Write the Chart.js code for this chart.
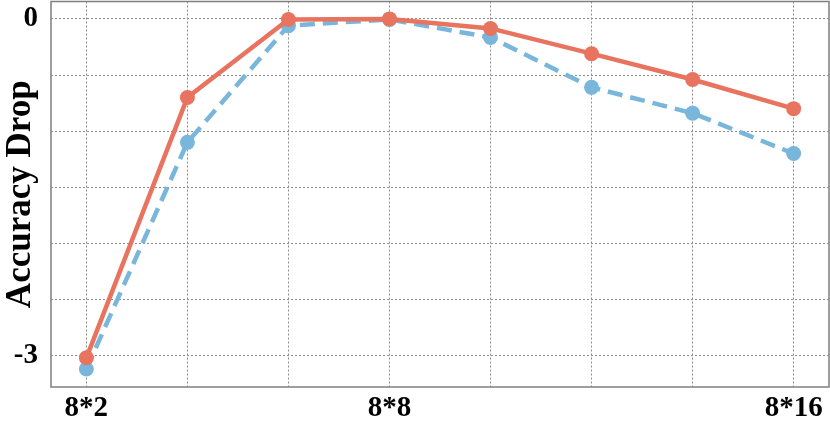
<!DOCTYPE html>
<html>
<head>
<meta charset="utf-8">
<script src="https://cdn.jsdelivr.net/npm/chart.js@4"></script>
<style>
  html, body { margin: 0; padding: 0; background: #fff; }
  #wrap { width: 830px; height: 422px; }
</style>
</head>
<body>
<div id="wrap"><canvas id="chart"></canvas></div>
<script>
// Data
const xValues = [2, 4, 6, 8, 10, 12, 14, 16];
const xLabeled = [2, 8, 16];
const redValues = [-3.02, -0.70, -0.005, 0, -0.085, -0.31, -0.54, -0.80];
const blueValues = [-3.12, -1.10, -0.06, -0.005, -0.165, -0.61, -0.84, -1.20];
const yTicks = [0, -0.5, -1, -1.5, -2, -2.5, -3];
const yLabeled = [0, -3];

const RED = '#e8735f';
const BLUE = '#79b6dc';
const FONT = "'Liberation Serif', 'Times New Roman', serif";

// frame around plot area
const framePlugin = {
  id: 'frame',
  afterDraw(chart) {
    const { ctx, chartArea: a } = chart;
    ctx.save();
    ctx.strokeStyle = '#7f7f7f';
    ctx.lineWidth = 1.5;
    ctx.strokeRect(a.left, a.top, a.right - a.left, a.bottom - a.top);
    ctx.restore();
  }
};

const toPoints = vals => vals.map((v, i) => ({ x: xValues[i], y: v }));

new Chart(document.getElementById('chart'), {
  type: 'line',
  data: {
    datasets: [
      {
        label: 'red',
        data: toPoints(redValues),
        borderColor: RED,
        backgroundColor: RED,
        borderWidth: 4.5,
        pointRadius: 7.5,
        pointHoverRadius: 7.5,
        pointBorderWidth: 0,
        tension: 0
      },
      {
        label: 'blue',
        data: toPoints(blueValues),
        borderColor: BLUE,
        backgroundColor: BLUE,
        borderWidth: 4.5,
        borderDash: [15, 8],
        pointRadius: 7.5,
        pointHoverRadius: 7.5,
        pointBorderWidth: 0,
        tension: 0
      }
    ]
  },
  options: {
    responsive: true,
    maintainAspectRatio: false,
    animation: false,
    layout: { autoPadding: false, padding: { top: 1.5, right: 1, left: 0, bottom: 0 } },
    plugins: {
      legend: { display: false },
      tooltip: { enabled: false }
    },
    scales: {
      x: {
        type: 'linear',
        min: 1.3,
        max: 16.7,
        afterBuildTicks: s => { s.ticks = xValues.map(v => ({ value: v })); },
        afterFit: s => { s.height = 35; s.paddingLeft = 0; s.paddingRight = 0; },
        border: { display: false, dash: [2, 2] },
        grid: { color: '#8c8c8c', lineWidth: 1, drawTicks: false },
        ticks: {
          padding: 4,
          maxRotation: 0,
          autoSkip: false,
          color: '#000',
          font: { family: FONT, size: 29, weight: 'bold' },
          callback: v => xLabeled.includes(v) ? '8*' + v : ''
        }
      },
      y: {
        type: 'linear',
        min: -3.28,
        max: 0.155,
        afterBuildTicks: s => { s.ticks = yTicks.map(v => ({ value: v })); },
        afterFit: s => { s.width = 51; s.paddingTop = 0; s.paddingBottom = 0; },
        border: { display: false, dash: [2, 2] },
        grid: { color: '#8c8c8c', lineWidth: 1, drawTicks: false },
        title: {
          display: true,
          text: 'Accuracy Drop',
          color: '#000',
          font: { family: FONT, size: 35, weight: 'bold' },
          padding: { top: 0, bottom: 0 }
        },
        ticks: {
          padding: 13,
          autoSkip: false,
          color: '#000',
          font: { family: FONT, size: 29, weight: 'bold' },
          callback: v => yLabeled.includes(v) ? String(v) : ''
        }
      }
    }
  },
  plugins: [framePlugin]
});
</script>
</body>
</html>
